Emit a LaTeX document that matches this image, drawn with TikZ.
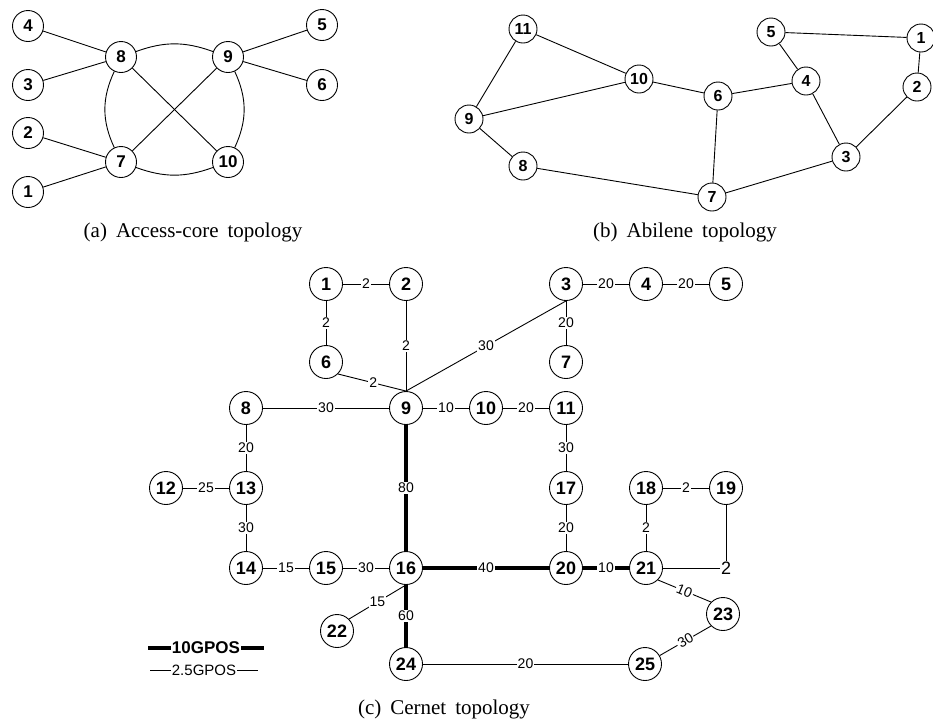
\documentclass[tikz,border=0pt]{standalone}
\usepackage{fontspec}
\setmainfont{Liberation Serif}
\setsansfont{Liberation Sans}
\begin{document}
\begin{tikzpicture}[x=1pt,y=1pt,
  na/.style={circle,draw,line width=0.9pt,minimum size=31pt,inner sep=0pt,font=\fontsize{17}{17}\selectfont\sffamily\bfseries},
  nb/.style={circle,draw,line width=0.9pt,minimum size=28pt,inner sep=0pt,font=\fontsize{16}{16}\selectfont\sffamily\bfseries},
  nc/.style={circle,draw,line width=0.9pt,minimum size=33pt,inner sep=0pt,font=\fontsize{18}{18}\selectfont\sffamily\bfseries},
  ed/.style={line width=0.9pt},
  tk/.style={line width=4pt},
  lab/.style={fill=white,inner sep=1.2pt,font=\fontsize{14}{14}\selectfont\sffamily},
  captxt/.style={font=\fontsize{21}{21}\selectfont\rmfamily,inner sep=0pt},
]
\useasboundingbox (0,0) rectangle (933,-721);

% ---------- (a) Access-core ----------
\node[na] (a4) at (28,-26) {4};
\node[na] (a3) at (28,-85) {3};
\node[na] (a2) at (28,-133) {2};
\node[na] (a1) at (28,-192) {1};
\node[na] (a8) at (121,-57) {8};
\node[na] (a9) at (228,-57) {9};
\node[na] (a7) at (121,-162) {7};
\node[na] (a10) at (228,-162) {10};
\node[na] (a5) at (322,-25) {5};
\node[na] (a6) at (322,-85) {6};
\draw[ed] (a4) -- (a8);
\draw[ed] (a3) -- (a8);
\draw[ed] (a2) -- (a7);
\draw[ed] (a1) -- (a7);
\draw[ed] (a5) -- (a9);
\draw[ed] (a6) -- (a9);
\draw[ed] (a8) -- (a10);
\draw[ed] (a9) -- (a7);
\draw[ed] (a8) to[out=20,in=160] (a9);
\draw[ed] (a7) to[out=-20,in=200] (a10);
\draw[ed] (a8) to[out=245,in=115] (a7);
\draw[ed] (a9) to[out=-65,in=65] (a10);
\node[captxt] (capa) at (193,-232) {(a)\hspace{9pt}Access-core\hspace{9pt}topology};

% ---------- (b) Abilene ----------
\node[nb] (b11) at (523,-29) {11};
\node[nb] (b10) at (639,-79) {10};
\node[nb] (b9) at (469,-119) {9};
\node[nb] (b8) at (523,-166) {8};
\node[nb] (b6) at (718,-96) {6};
\node[nb] (b7) at (712,-197) {7};
\node[nb] (b5) at (771,-32) {5};
\node[nb] (b4) at (806,-81) {4};
\node[nb] (b3) at (846,-157) {3};
\node[nb] (b1) at (921,-38) {1};
\node[nb] (b2) at (917,-87) {2};
\draw[ed] (b11) -- (b10);
\draw[ed] (b11) -- (b9);
\draw[ed] (b9) -- (b10);
\draw[ed] (b9) -- (b8);
\draw[ed] (b8) -- (b7);
\draw[ed] (b10) -- (b6);
\draw[ed] (b6) -- (b4);
\draw[ed] (b6) -- (b7);
\draw[ed] (b7) -- (b3);
\draw[ed] (b5) -- (b4);
\draw[ed] (b4) -- (b3);
\draw[ed] (b5) -- (b1);
\draw[ed] (b1) -- (b2);
\draw[ed] (b2) -- (b3);
\node[captxt] (capb) at (685,-232) {(b)\hspace{9pt}Abilene\hspace{9pt}topology};

% ---------- (c) Cernet ----------
\node[nc] (c1) at (326,-284) {1};
\node[nc] (c2) at (406,-284) {2};
\node[nc] (c3) at (566,-284) {3};
\node[nc] (c4) at (646,-284) {4};
\node[nc] (c5) at (726,-284) {5};
\node[nc] (c6) at (326,-362) {6};
\node[nc] (c7) at (566,-362) {7};
\node[nc] (c8) at (246,-408) {8};
\node[nc] (c9) at (406,-408) {9};
\node[nc] (c10) at (486,-408) {10};
\node[nc] (c11) at (566,-408) {11};
\node[nc] (c12) at (166,-488) {12};
\node[nc] (c13) at (246,-488) {13};
\node[nc] (c17) at (566,-488) {17};
\node[nc] (c18) at (646,-488) {18};
\node[nc] (c19) at (726,-488) {19};
\node[nc] (c14) at (246,-568) {14};
\node[nc] (c15) at (326,-568) {15};
\node[nc] (c16) at (406,-568) {16};
\node[nc] (c20) at (566,-568) {20};
\node[nc] (c21) at (646,-568) {21};
\node[nc] (c22) at (337,-631) {22};
\node[nc] (c23) at (723,-614) {23};
\node[nc] (c24) at (406,-664) {24};
\node[nc] (c25) at (645,-664) {25};

\draw[ed] (c1) -- node[lab]{2} (c2);
\draw[ed] (c1) -- node[lab]{2} (c6);
\draw[ed] (c2) -- node[lab]{2} (c9);
\draw[ed] (c6.south east) -- node[lab,pos=0.52]{2} (c9.north);
\draw[ed] (c9.north) -- node[lab]{30} (c3.south);
\draw[ed] (c3) -- node[lab]{20} (c4);
\draw[ed] (c4) -- node[lab]{20} (c5);
\draw[ed] (c3) -- node[lab]{20} (c7);
\draw[ed] (c8) -- node[lab]{30} (c9);
\draw[ed] (c9) -- node[lab]{10} (c10);
\draw[ed] (c10) -- node[lab]{20} (c11);
\draw[ed] (c11) -- node[lab]{30} (c17);
\draw[ed] (c8) -- node[lab]{20} (c13);
\draw[ed] (c12) -- node[lab]{25} (c13);
\draw[ed] (c13) -- node[lab]{30} (c14);
\draw[ed] (c14) -- node[lab]{15} (c15);
\draw[ed] (c15) -- node[lab]{30} (c16);
\draw[ed] (c17) -- node[lab]{20} (c20);
\draw[ed] (c18) -- node[lab]{2} (c19);
\draw[ed] (c18) -- node[lab]{2} (c21);
\draw[ed] (c21) -| node[lab,pos=0.5,font=\fontsize{18}{18}\selectfont\sffamily]{2} (c19);
\draw[ed] (c21.south east) -- node[lab,sloped]{10} (c23.north west);
\draw[ed] (c23.south west) -- node[lab,sloped]{30} (c25);
\draw[ed] (c24) -- node[lab]{20} (c25);
\draw[ed] (c16.south) -- node[lab]{15} (c22.north east);
\draw[tk] (c9) -- node[lab]{80} (c16);
\draw[tk] (c16) -- node[lab]{40} (c20);
\draw[tk] (c20) -- node[lab]{10} (c21);
\draw[tk] (c16) -- node[lab]{60} (c24);

% legend
\node[inner sep=1pt,font=\fontsize{17}{17}\selectfont\sffamily\bfseries] (lg10) at (206,-648) {10GPOS};
\coordinate (lg10l) at (148,-648);
\coordinate (lg10r) at (264,-648);
\draw[tk] (lg10l) -- (lg10);
\draw[tk] (lg10) -- (lg10r);
\node[inner sep=1pt,font=\fontsize{15}{15}\selectfont\sffamily] (lg25) at (204,-670) {2.5GPOS};
\coordinate (lg25l) at (150,-670);
\coordinate (lg25r) at (258,-670);
\draw[ed] (lg25l) -- (lg25);
\draw[ed] (lg25) -- (lg25r);

\node[captxt] (capc) at (444,-709) {(c)\hspace{9pt}Cernet\hspace{9pt}topology};
\end{tikzpicture}
\end{document}
